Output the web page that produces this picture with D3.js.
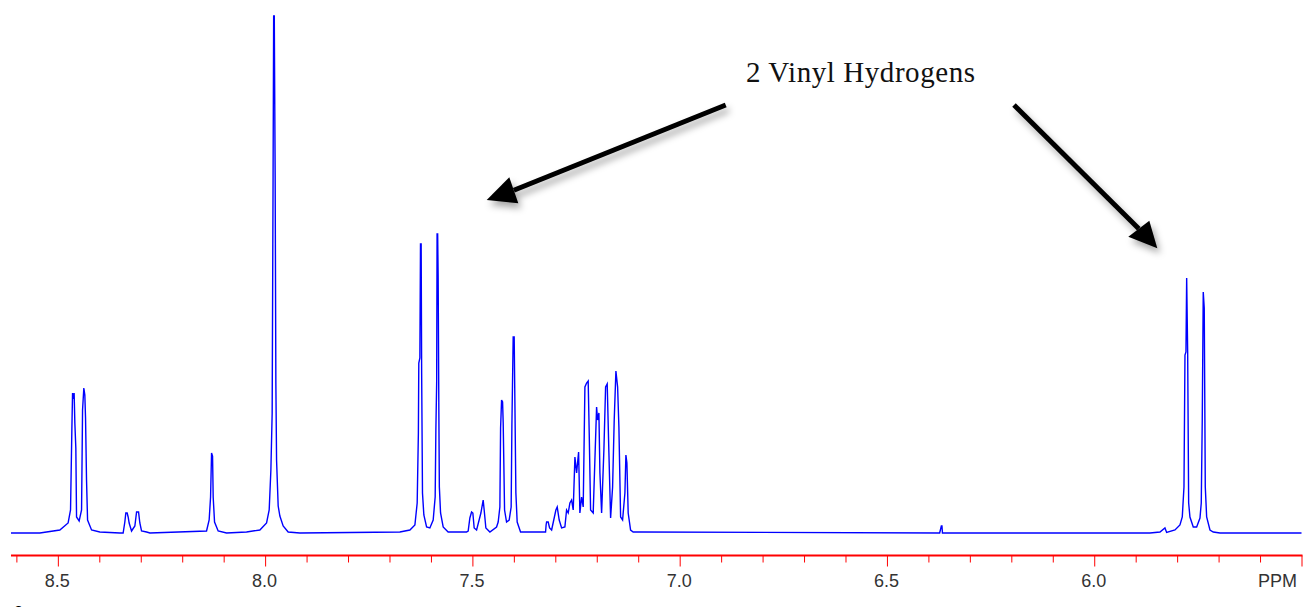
<!DOCTYPE html>
<html>
<head>
<meta charset="utf-8">
<script src="https://cdn.jsdelivr.net/npm/d3@7"></script>
<style>
  body { margin: 0; background: #fff; }
  svg { display: block; }
</style>
</head>
<body>
<script>
// spectrum vertices: [shift in ppm, intensity]
var baseStart = [[8.613, 0]]
var h846 = [[8.5434,0],[8.4952,3],[8.4752,10],[8.4694,23],[8.4662,103],[8.4645,140],[8.4631,134],[8.4607,140],[8.4590,110],[8.4566,85],[8.4549,16],[8.4486,12],[8.4428,23],[8.4404,123],[8.4373,145],[8.4349,138],[8.4332,115],[8.4308,53],[8.4283,13],[8.4187,3],[8.3987,1],[8.3504,0]]
var h832 = [[8.3425,0],[8.3384,11],[8.3360,20],[8.3328,20],[8.3304,16],[8.3280,10],[8.3222,2],[8.3142,7],[8.3101,21],[8.3053,21],[8.3022,10],[8.2981,2],[8.2860,1],[8.2780,0]]
var h813 = [[8.1413,2],[8.1350,13],[8.1316,36],[8.1292,80],[8.1268,77],[8.1253,36],[8.1220,11],[8.1133,2],[8.0930,0]]
var h798 = [[8.0448,1],[8.0127,3],[7.9965,10],[7.9902,23],[7.9861,63],[7.9830,120],[7.9808,357],[7.9794,517],[7.9779,517],[7.9758,357],[7.9741,150],[7.9724,73],[7.9685,27],[7.9644,17],[7.9565,7],[7.9444,1],[7.9162,0]]
var h760 = [[7.6749,1],[7.6508,3],[7.6387,8],[7.6332,30],[7.6303,100],[7.6293,170],[7.6267,175],[7.6252,289],[7.6236,289],[7.6224,160],[7.6204,40],[7.6171,18],[7.6105,6],[7.6026,5],[7.5946,13],[7.5898,36],[7.5881,103],[7.5862,150],[7.5852,299],[7.5838,299],[7.5826,256],[7.5809,120],[7.5797,46],[7.5768,20],[7.5705,6],[7.5585,1],[7.5141,1]]
var h749 = [[7.5102,2],[7.5061,15],[7.5020,21],[7.4989,20],[7.4957,5],[7.4899,3],[7.4795,20],[7.4740,33],[7.4716,23],[7.4675,5],[7.4578,1],[7.4417,6]]
var h741 = [[7.4378,11],[7.4337,26],[7.4320,105],[7.4296,133],[7.4272,131],[7.4257,110],[7.4224,23],[7.4176,11],[7.4113,13],[7.4065,26],[7.4047,108],[7.4016,196],[7.3992,196],[7.3975,131],[7.3951,40],[7.3920,11],[7.3838,1],[7.3534,1],[7.3235,1],[7.3222,8]]
var h722 = [[7.3210,11],[7.3172,11],[7.3138,5],[7.3089,3],[7.2986,23],[7.2954,26],[7.2906,13],[7.2848,5],[7.2769,6],[7.2728,23],[7.2689,20],[7.2648,30],[7.2607,33],[7.2568,23],[7.2527,76],[7.2486,60],[7.2438,81],[7.2407,20],[7.2366,36],[7.2327,26],[7.2286,146],[7.2245,150],[7.2207,152],[7.2182,100],[7.2149,23],[7.2086,20],[7.2004,126],[7.1980,113],[7.1948,120],[7.1924,60],[7.1883,20],[7.1828,83],[7.1787,146],[7.1748,149],[7.1707,80],[7.1666,15],[7.1618,46],[7.1579,113],[7.1538,162],[7.1497,146],[7.1466,106],[7.1425,16],[7.1377,13],[7.1321,40],[7.1297,78],[7.1273,70],[7.1242,20],[7.1184,3],[7.1121,1],[7.0959,1]]
var h637 = [[6.3729,0],[6.3705,4],[6.3688,7],[6.3673,7],[6.3661,0]]
var h576 = [[5.8655,0],[5.8414,1],[5.8294,5],[5.8253,0.5],[5.8052,3],[5.7932,8],[5.7876,16],[5.7835,46],[5.7811,178],[5.7787,181],[5.7770,255],[5.7746,181],[5.7722,30],[5.7691,16],[5.7611,6],[5.7529,6],[5.7449,15],[5.7418,30],[5.7394,113],[5.7370,241],[5.7346,225],[5.7321,46],[5.7288,16],[5.7208,3],[5.7128,1],[5.6967,0]]
var baseEnd = [[5.5, 0]]

var minorTicks = [8.6,8.4,8.3,8.2,8.1,7.9,7.8,7.7,7.6,7.4,7.3,7.2,7.1,6.9,6.8,6.7,6.6,6.4,6.3,6.2,6.1,5.9,5.8,5.7,5.6]
var majorTicks = [8.5,8.0,7.5,7.0,6.5,6.0,5.5]
var unitLabel = 'PPM'
var note = '2 Vinyl Hydrogens'

var width = 1303,
    height = 607

var svg = d3.select('body').append('svg')
    .attr('width', width)
    .attr('height', height)

var defs = svg.append('defs')
var shadow = defs.append('filter').attr('id', 'shadow')
    .attr('x', '-20%').attr('y', '-20%').attr('width', '140%').attr('height', '140%')
shadow.append('feDropShadow')
    .attr('dx', 3).attr('dy', 5).attr('stdDeviation', 3.5)
    .attr('flood-color', '#000').attr('flood-opacity', 0.35)

var x = d3.scaleLinear().domain([8.613, 5.5]).range([11, 1301.5])
var y = d3.scaleLinear().domain([0, 517]).range([533, 16])

var spectrum = [].concat(baseStart, h846, h832, h813, h798, h760, h749, h741, h722, h637, h576, baseEnd)

var line = d3.line()
    .x(d => x(d[0]))
    .y(d => y(d[1]))

svg.append('path')
    .datum(spectrum)
    .attr('d', line)
    .attr('fill', 'none')
    .attr('stroke', '#0000ff')
    .attr('stroke-width', 1.4)
    .attr('stroke-linejoin', 'miter')

// axis: minor ticks, then major with labels
var axisY = 555.5
var minorAxis = d3.axisBottom(x).tickValues(minorTicks).tickSize(7).tickSizeOuter(0).tickFormat('')
var majorAxis = d3.axisBottom(x).tickValues(majorTicks).tickSize(11).tickSizeOuter(0)
    .tickFormat(d => d === 5.5 ? unitLabel : d3.format('.1f')(d))

var gMinor = svg.append('g').attr('transform', 'translate(0,' + axisY + ')').call(minorAxis)
var gMajor = svg.append('g').attr('transform', 'translate(0,' + axisY + ')').call(majorAxis)
gMinor.select('.domain').remove()
gMajor.select('.domain').attr('stroke', '#ff0000').attr('stroke-width', 1.8)
    .attr('d', 'M' + x(8.613) + ',0H' + (x(5.5) + 1))
svg.selectAll('.tick line').attr('stroke', '#ff0000').attr('stroke-width', 1)
gMajor.selectAll('.tick text')
    .attr('y', 31).attr('dy', 0).attr('dx', -1)
    .attr('fill', '#333')
    .style('font-family', "'Liberation Sans Narrow', 'Liberation Sans', Arial, sans-serif")
    .style('font-size', '18px')
gMajor.selectAll('.tick text').filter(d => d === 5.5)
    .attr('text-anchor', 'end').attr('dx', -5)

// clipped caption number at the very bottom, as in the source
svg.append('text')
    .attr('x', 14).attr('y', 618)
    .style('font-family', "'Liberation Sans', Arial, sans-serif")
    .style('font-size', '16px').style('font-weight', 'bold')
    .text('2')

// annotation
svg.append('text')
    .attr('x', 746).attr('y', 82)
    .style('font-family', "'Liberation Serif', 'DejaVu Serif', serif")
    .style('font-size', '29px')
    .attr('textLength', 229)
    .attr('lengthAdjust', 'spacing')
    .attr('fill', '#111')
    .text(note)

var arrows = [
    {from: [725.7, 105], tip: [486.7, 200], wing1: [509.3, 177.3], wing2: [518.3, 203.3]},
    {from: [1014, 105], tip: [1157.3, 248.3], wing1: [1128.3, 236.7], wing2: [1149.3, 220.7]}
]
var ga = svg.append('g').attr('filter', 'url(#shadow)')
arrows.forEach(a => {
    var mid = [(a.wing1[0] + a.wing2[0]) / 2, (a.wing1[1] + a.wing2[1]) / 2]
    ga.append('line')
        .attr('x1', a.from[0]).attr('y1', a.from[1])
        .attr('x2', mid[0]).attr('y2', mid[1])
        .attr('stroke', '#000').attr('stroke-width', 5)
    ga.append('path')
        .attr('d', 'M' + a.tip + 'L' + a.wing1 + 'L' + a.wing2 + 'Z')
        .attr('fill', '#000')
})
</script>
</body>
</html>
